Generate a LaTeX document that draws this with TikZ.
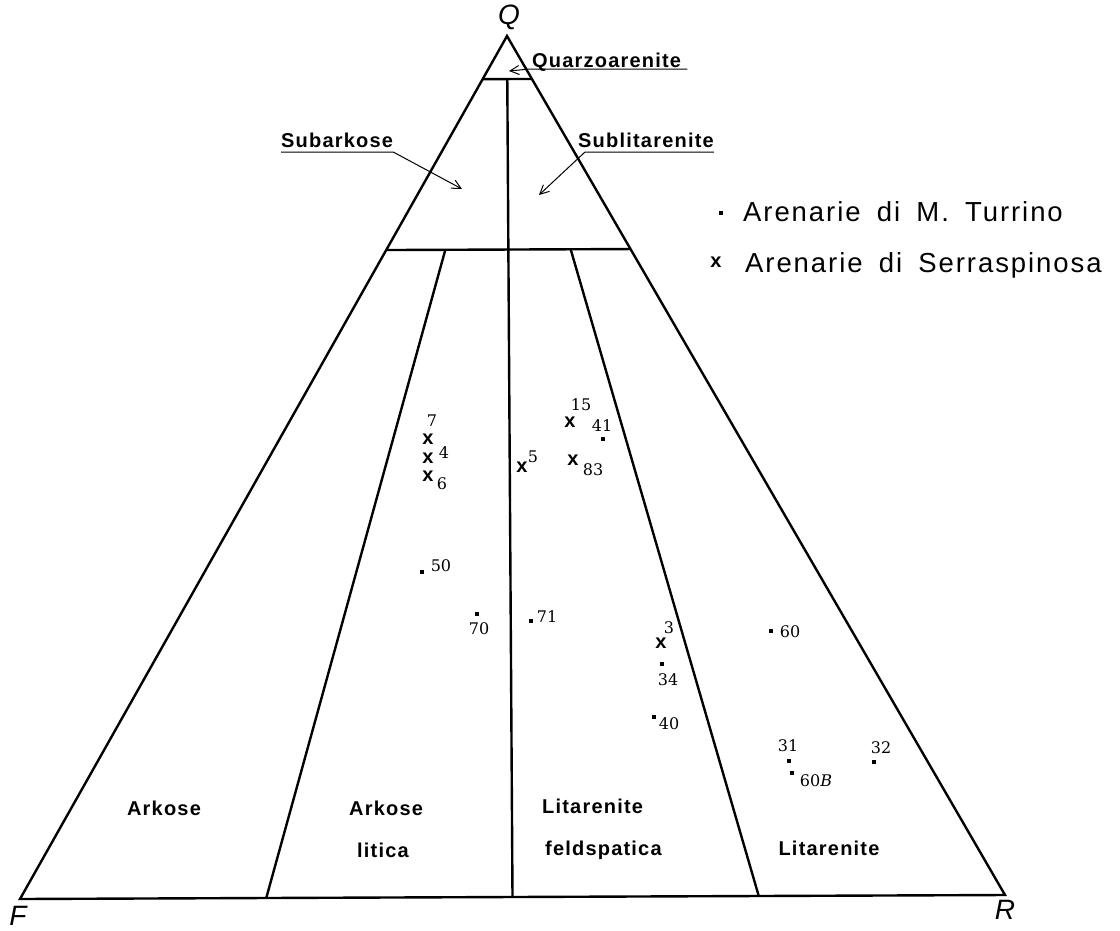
\documentclass[tikz,border=0pt]{standalone}
\usepackage{fontspec}
\usetikzlibrary{calc,arrows.meta}
\newfontfamily\labf{Liberation Sans}[LetterSpace=6]
\newfontfamily\legf{Liberation Sans}[LetterSpace=7,WordSpace=1.7]
\newfontfamily\numf{DejaVu Serif}
\newfontfamily\vertf{Liberation Sans}
\tikzset{
  frame/.style={line width=2.4pt, line join=miter},
  leader/.style={line width=1pt},
  tip/.style={-{Straight Barb[length=9pt,width=9pt,line width=1pt]}},
  vlab/.style={inner sep=0pt, font=\vertf\itshape\fontsize{28}{30}\selectfont},
  blab/.style={inner sep=0pt, font=\labf\bfseries\fontsize{20}{23}\selectfont},
  legtext/.style={inner sep=0pt, anchor=base west, font=\legf\fontsize{27.5}{30}\selectfont},
  xm/.style={inner sep=0pt, font=\vertf\bfseries\fontsize{20}{22}\selectfont},
  sq/.style={fill=black, inner sep=0pt, minimum size=3.8pt},
  num/.style={inner sep=0pt, font=\numf\fontsize{16}{18}\selectfont},
}
\begin{document}
\begin{tikzpicture}[x=1pt,y=-1pt]
\useasboundingbox (0,0) rectangle (1120,930);
% vertices
\coordinate (Q) at (507,36);
\coordinate (F) at (20,899);
\coordinate (R) at (1005,895);
\coordinate (q1) at ($(Q)!0.05!(F)$);
\coordinate (q2) at ($(Q)!0.05!(R)$);
\coordinate (s1) at ($(Q)!0.248!(F)$);
\coordinate (s2) at ($(Q)!0.248!(R)$);
\coordinate (qm) at ($(q1)!0.5!(q2)$);
\coordinate (bm) at ($(F)!0.5!(R)$);
\coordinate (t1) at ($(s1)!0.242!(s2)$);
\coordinate (t2) at ($(s1)!0.755!(s2)$);
\coordinate (b1) at ($(F)!0.25!(R)$);
\coordinate (b2) at ($(F)!0.75!(R)$);
\draw[frame] (Q) -- (F) -- (R) -- cycle;
\draw[frame] (q1) -- (q2);
\draw[frame] (s1) -- (s2);
\draw[frame] (qm) -- (bm);
\draw[frame] (t1) -- (b1);
\draw[frame] (t2) -- (b2);
% vertex labels
\node[vlab] (Qlab) at (509,17) {Q};
\node[vlab] (Flab) at (18,916) {F};
\node[vlab] (Rlab) at (1005,910) {R};
% field names with leaders
\node[blab, anchor=base west] (qz) at (532,67) {Quarzoarenite};
\coordinate (qztip) at (509,71);
\draw[leader, tip] ($(qz.base east)+(6,2)$) -- ($(qz.base west)+(-2,2)$) -- (qztip);
\node[blab, anchor=base west] (sa) at (281,147) {Subarkose};
\coordinate (satip) at (462,189);
\draw[leader, tip] ($(sa.base west)+(0,5)$) -- ($(sa.base east)+(0,5)$) -- (satip);
\node[blab, anchor=base west] (sl) at (578,147) {Sublitarenite};
\coordinate (sltip) at (539,195);
\draw[leader, tip] ($(sl.base east)+(0,5)$) -- ($(sl.base west)+(7,5)$) -- (sltip);
% region names
\node[blab] (ark) at (164,808) {Arkose};
\node[blab, anchor=west] (arkl1) at (349,808) {Arkose};
\node[blab, anchor=west] (arkl2) at (357,850) {litica};
\node[blab, anchor=west] (litf1) at (542,806) {Litarenite};
\node[blab, anchor=west] (litf2) at (545,850) {feldspatica};
\node[blab] (lit) at (829,848) {Litarenite};
% legend
\node[sq] (lg1) at (721,213) {};
\node[legtext] (lt1) at (743,221) {Arenarie di M. Turrino};
\node[xm] (lg2) at (716,262) {x};
\node[legtext] (lt2) at (745,272) {Arenarie di Serraspinosa};
% Serraspinosa samples
\node[xm] (x7) at (428,439) {x};   \node[num] (n7) at (432,421) {7};
\node[xm] (x4) at (428,458) {x};   \node[num] (n4) at (444,453) {4};
\node[xm] (x6) at (428,476) {x};   \node[num] (n6) at (442,484) {6};
\node[xm] (x5) at (522,467) {x};   \node[num] (n5) at (533,457) {5};
\node[xm] (x15) at (570,422) {x};  \node[num] (n15) at (581,405) {15};
\node[xm] (x83) at (573,460) {x};  \node[num] (n83) at (593,470) {83};
\node[xm] (x3) at (661,643) {x};   \node[num] (n3) at (669,628) {3};
% Turrino samples
\node[sq] (p41) at (603,439) {};   \node[num] (n41) at (602,426) {41};
\node[sq] (p50) at (422,572) {};   \node[num] (n50) at (441,566) {50};
\node[sq] (p70) at (477,614) {};   \node[num] (n70) at (479,629) {70};
\node[sq] (p71) at (531,621) {};   \node[num] (n71) at (547,617) {71};
\node[sq] (p34) at (662,664) {};   \node[num] (n34) at (668,680) {34};
\node[sq] (p40) at (654,717) {};   \node[num] (n40) at (669,724) {40};
\node[sq] (p60) at (771,631) {};   \node[num] (n60) at (790,632) {60};
\node[sq] (p31) at (789,761) {};   \node[num] (n31) at (788,746) {31};
\node[sq] (p60B) at (792,773) {};  \node[num] (n60B) at (816,781) {60\textit{B}};
\node[sq] (p32) at (874,762) {};   \node[num] (n32) at (881,748) {32};
\end{tikzpicture}
\end{document}
